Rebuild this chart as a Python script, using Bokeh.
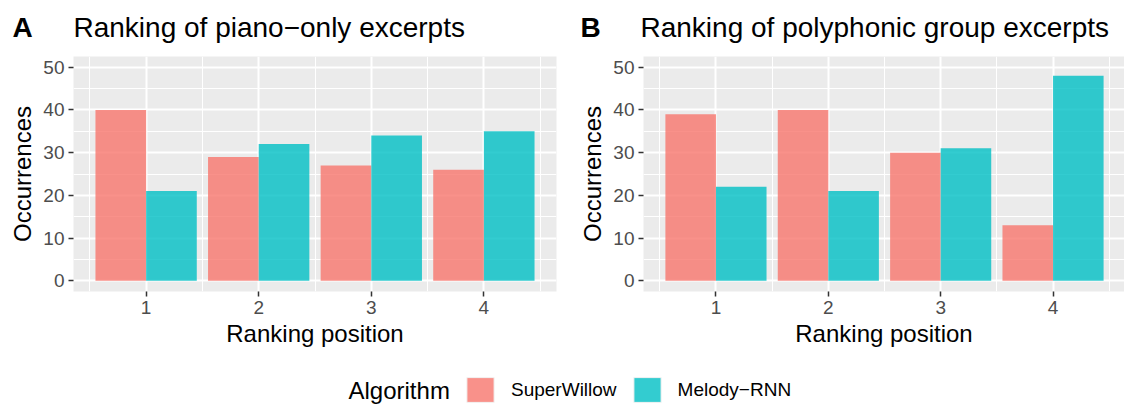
from bokeh.plotting import figure
from bokeh.models import Range1d, FixedTicker, Label, Legend, LegendItem, ColumnDataSource
from bokeh.transform import dodge
from bokeh.layouts import row, column
from bokeh.embed import file_html
from bokeh.resources import INLINE

# ---- data ----
positions = [1, 2, 3, 4]
tick_labels = ["1", "2", "3", "4"]
series_names = ["SuperWillow", "Melody\u2212RNN"]
legend_title = "Algorithm"
panel_letters = ["A", "B"]
panel_titles = ["Ranking of piano\u2212only excerpts", "Ranking of polyphonic group excerpts"]
piano_superwillow = [40, 29, 27, 26]
piano_melody = [21, 32, 34, 35]
poly_superwillow = [39, 40, 30, 13]
poly_melody = [22, 21, 31, 48]
y_ticks = [0, 10, 20, 30, 40, 50]
y_minor = [5, 15, 25, 35, 45]
x_minor = [0.5, 1.5, 2.5, 3.5, 4.5]

FONT = "Liberation Sans"
RED = "#F8766D"
TEAL = "#00BFC4"
ALPHA = 0.8
PX_PER_UNIT = 483 / 4.29
W = 1124
HEAD_H = 56
PANEL_H = 299
LEG_H = 50


def make_panel(sw, mel, width, left, right):
    frame_w = width - left - right
    xend = 0.355 + frame_w / PX_PER_UNIT
    p = figure(width=width, height=PANEL_H, title=None,
               x_range=Range1d(0.355, xend), y_range=Range1d(-2.5, 52.5),
               output_backend="svg", toolbar_location=None,
               min_border_left=left, min_border_right=right,
               min_border_top=0, min_border_bottom=PANEL_H - 235,
               background_fill_color="#EBEBEB", border_fill_color="white",
               outline_line_color=None)
    src = ColumnDataSource(dict(x=positions, sw=sw, mel=mel))
    p.vbar(x=dodge("x", -0.225, range=p.x_range), top="sw", bottom=0, width=0.45,
           source=src, fill_color=RED, fill_alpha=ALPHA, line_color=None)
    p.vbar(x=dodge("x", 0.225, range=p.x_range), top="mel", bottom=0, width=0.45,
           source=src, fill_color=TEAL, fill_alpha=ALPHA, line_color=None)

    p.xaxis.ticker = FixedTicker(ticks=positions, minor_ticks=x_minor)
    p.xaxis.major_label_overrides = {pos: lab for pos, lab in zip(positions, tick_labels)}
    p.yaxis.ticker = FixedTicker(ticks=y_ticks, minor_ticks=y_minor)

    for ax in (p.xaxis[0], p.yaxis[0]):
        ax.axis_line_color = None
        ax.major_tick_line_color = "#333333"
        ax.major_tick_line_width = 1.5
        ax.major_tick_out = 5
        ax.major_tick_in = 0
        ax.minor_tick_line_color = None
        ax.major_label_text_font = FONT
        ax.major_label_text_font_size = "19px"
        ax.major_label_text_color = "#4D4D4D"
        ax.axis_label_text_font = FONT
        ax.axis_label_text_font_size = "24px"
        ax.axis_label_text_font_style = "normal"
        ax.axis_label_text_color = "black"
    p.xaxis.axis_label = "Ranking position"
    p.yaxis.axis_label = "Occurrences"
    p.xaxis.major_label_standoff = 4
    p.xaxis.axis_label_standoff = 3
    p.yaxis.major_label_standoff = 4
    p.yaxis.axis_label_standoff = 4

    for g in (p.xgrid[0], p.ygrid[0]):
        g.grid_line_color = "white"
        g.grid_line_width = 2
        g.minor_grid_line_color = "white"
        g.minor_grid_line_width = 1
    return p


# header with panel letters and titles (pixel coordinates)
head = figure(width=W, height=HEAD_H, x_range=Range1d(0, W), y_range=Range1d(0, HEAD_H),
              min_border=0, outline_line_color=None, x_axis_type=None, y_axis_type=None,
              toolbar_location=None, output_backend="svg", title=None,
              border_fill_color="white", background_fill_color="white")
letter_x = [12, 580]
title_x = [73, 640]
base_y = HEAD_H - 26.5
for lx, tx, letter, title in zip(letter_x, title_x, panel_letters, panel_titles):
    head.add_layout(Label(x=lx, y=base_y, text=letter, text_font=FONT, text_font_size="28px",
                          text_font_style="bold", text_baseline="alphabetic", text_color="black"))
    head.add_layout(Label(x=tx, y=base_y, text=title, text_font=FONT, text_font_size="28px",
                          text_baseline="alphabetic", text_color="black"))

pA = make_panel(piano_superwillow, piano_melody, 576, 73, 20)
pB = make_panel(poly_superwillow, poly_melody, W - 576, 66, 0)

leg = figure(width=W, height=LEG_H, x_range=Range1d(0, W), y_range=Range1d(0, LEG_H),
             min_border=0, outline_line_color=None, x_axis_type=None, y_axis_type=None,
             toolbar_location=None, output_backend="svg", title=None,
             border_fill_color="white", background_fill_color="white")
r1 = leg.vbar(x=positions, top=piano_superwillow, width=0.5, fill_color=RED, fill_alpha=ALPHA,
              line_color="#F2F2F2", visible=False)
r2 = leg.vbar(x=positions, top=piano_melody, width=0.5, fill_color=TEAL, fill_alpha=ALPHA,
              line_color="#F2F2F2", visible=False)
legend = Legend(items=[LegendItem(label=series_names[0], renderers=[r1]),
                       LegendItem(label=series_names[1], renderers=[r2])],
                orientation="horizontal", location=(463, 0), click_policy="none",
                label_text_font=FONT, label_text_font_size="19px", label_text_color="black",
                glyph_width=34, glyph_height=31, label_standoff=14, spacing=13,
                padding=0, margin=0, border_line_color=None, background_fill_alpha=0)
leg.add_layout(legend, "center")
leg.add_layout(Label(x=348, y=14.9, text=legend_title, text_font=FONT,
                     text_font_size="24px", text_baseline="alphabetic", text_color="black"))

layout = column(head, row(pA, pB), leg)
open("out.html", "w").write(file_html(layout, INLINE))
